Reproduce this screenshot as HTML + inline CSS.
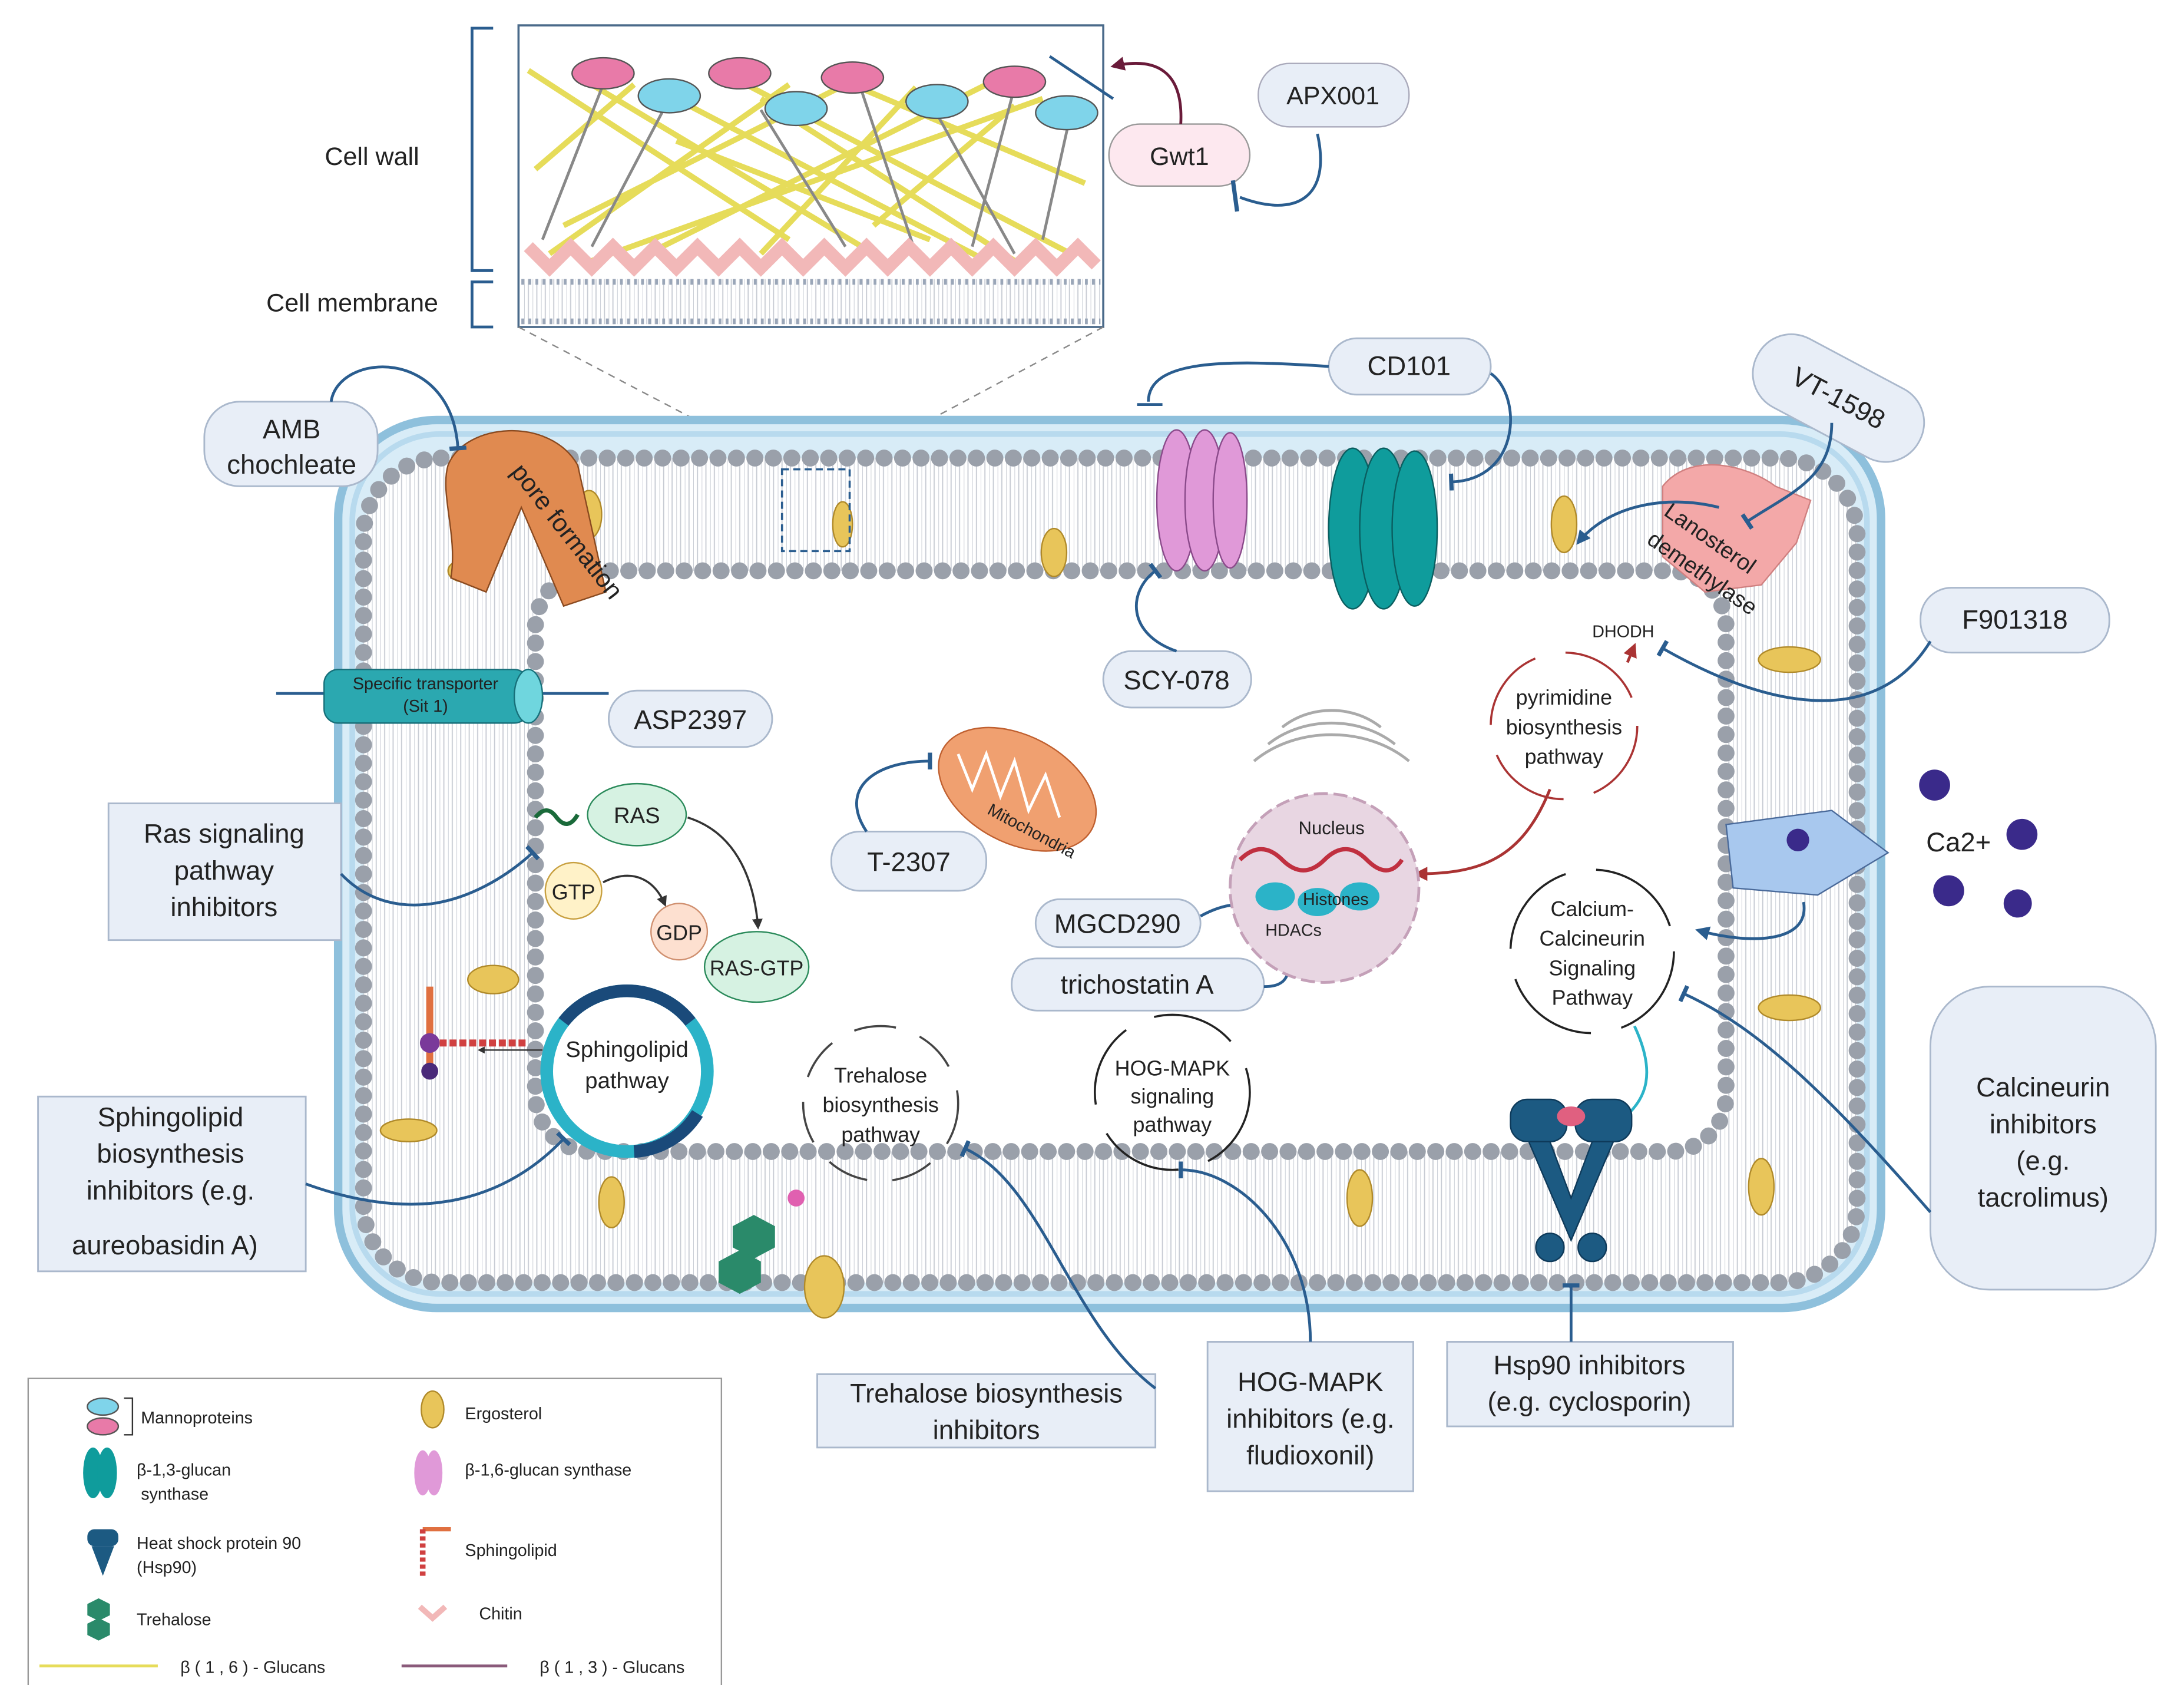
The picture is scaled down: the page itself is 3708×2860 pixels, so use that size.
<!DOCTYPE html>
<html><head><meta charset="utf-8"><style>html,body{margin:0;padding:0;background:#fff}svg{display:block}text{font-family:"Liberation Sans",sans-serif;fill:#222}</style></head><body>
<svg width="3708" height="2860" viewBox="0 0 1550 1195.5" preserveAspectRatio="none" xmlns="http://www.w3.org/2000/svg">
<defs>
<marker id="ar" viewBox="0 0 10 10" refX="8" refY="5" markerWidth="5" markerHeight="5" orient="auto"><path d="M0,0L10,5L0,10z" fill="#333"/></marker>
<marker id="arb" viewBox="0 0 10 10" refX="8" refY="5" markerWidth="5" markerHeight="5" orient="auto"><path d="M0,0L10,5L0,10z" fill="#2a5d8f"/></marker>
<marker id="arr" viewBox="0 0 10 10" refX="8" refY="5" markerWidth="5" markerHeight="5" orient="auto"><path d="M0,0L10,5L0,10z" fill="#a33"/></marker>
<marker id="art" viewBox="0 0 10 10" refX="8" refY="5" markerWidth="4" markerHeight="4" orient="auto"><path d="M0,0L10,5L0,10z" fill="#2bb3c8"/></marker>
<marker id="arp" viewBox="0 0 10 10" refX="8" refY="5" markerWidth="5" markerHeight="5" orient="auto"><path d="M0,0L10,5L0,10z" fill="#6a1b3a"/></marker>
<marker id="tb" viewBox="0 0 10 10" refX="5" refY="5" markerWidth="6" markerHeight="6" orient="auto"><path d="M5,0L5,10" stroke="#2a5d8f" stroke-width="2.5"/></marker>
<pattern id="lip" width="6" height="6" patternUnits="userSpaceOnUse"><rect width="6" height="6" fill="#fff"/><path d="M0,0L0,6M3,0L3,6" stroke="#c8ccd4" stroke-width="0.8"/></pattern>
</defs>
<!-- inset -->
<rect x="368" y="18" width="415" height="214" fill="#fff" stroke="#4a6a8a" stroke-width="1.5"/>
<g stroke="#e6dc5a" stroke-width="4">
<path d="M375,50L560,170M420,60L620,180M470,65L700,185M520,55L760,180M600,58L770,130M650,62L540,180M700,60L470,175M740,70L420,185M560,60L390,180M380,120L450,60M620,160L720,75M480,100L660,170M540,70L720,185M400,160L600,60"/>
</g>
<g stroke="#888" stroke-width="2">
<path d="M430,55L385,170M475,70L420,175M540,78L600,175M610,60L650,180M660,72L720,180M720,62L690,175M760,80L740,170"/>
</g>
<g fill="#e87aa8" stroke="#555"><ellipse cx="428" cy="52" rx="22" ry="11"/><ellipse cx="525" cy="52" rx="22" ry="11"/><ellipse cx="605" cy="55" rx="22" ry="11"/><ellipse cx="720" cy="58" rx="22" ry="11"/></g>
<g fill="#7fd4ea" stroke="#555"><ellipse cx="475" cy="68" rx="22" ry="12"/><ellipse cx="565" cy="77" rx="22" ry="12"/><ellipse cx="665" cy="72" rx="22" ry="12"/><ellipse cx="757" cy="80" rx="22" ry="12"/></g>
<path d="M375,175 L390,190 L405,175 L420,190 L435,175 L450,190 L465,175 L480,190 L495,175 L510,190 L525,175 L540,190 L555,175 L570,190 L585,175 L600,190 L615,175 L630,190 L645,175 L660,190 L675,175 L690,190 L705,175 L720,190 L735,175 L750,190 L765,175 L778,188" fill="none" stroke="#f2b8b8" stroke-width="9"/>
<rect x="370" y="198" width="411" height="32" fill="url(#lip)"/>
<path d="M370,200H781M370,228H781" stroke="#9aa6b8" stroke-width="4" stroke-dasharray="2 3"/>
<path d="M350,20H335V192H350M350,200H335V232H350" fill="none" stroke="#2a5d8f" stroke-width="2"/>
<text x="264" y="117" font-size="18" text-anchor="middle">Cell wall</text>
<text x="250" y="221" font-size="18" text-anchor="middle">Cell membrane</text>
<path d="M368,232L555,330M783,232L600,330" stroke="#888" stroke-dasharray="5 4"/>
<!-- Gwt1/APX -->
<rect x="787" y="88" width="100" height="44" rx="22" fill="#fde8ef" stroke="#999"/><text x="837" y="117" font-size="18" text-anchor="middle">Gwt1</text>
<rect x="893" y="45" width="107" height="45" rx="22" fill="#e8eef7" stroke="#aab"/><text x="946" y="74" font-size="18" text-anchor="middle">APX001</text>
<path d="M838,88 C840,50 820,40 790,47" fill="none" stroke="#6a1b3a" stroke-width="2" marker-end="url(#arp)"/>
<path d="M745,40L790,70" stroke="#2a5d8f" stroke-width="2"/>
<path d="M935,95 C945,140 920,155 880,140" fill="none" stroke="#2a5d8f" stroke-width="2"/><path d="M875,128L878,150" stroke="#2a5d8f" stroke-width="3"/>
<!-- cell -->
<rect x="240" y="298" width="1095" height="630" rx="70" fill="#d8ecf7" stroke="#8ec0dc" stroke-width="6"/>
<rect x="250" y="308" width="1075" height="610" rx="62" fill="none" stroke="#b8daee" stroke-width="4"/>
<rect x="258" y="325" width="1060" height="585" rx="55" fill="url(#lip)" stroke="#9aa0aa" stroke-width="12" stroke-dasharray="0.1 13" stroke-linecap="round"/>
<rect x="380" y="405" width="845" height="412" rx="40" fill="#fff" stroke="#9aa0aa" stroke-width="12" stroke-dasharray="0.1 13" stroke-linecap="round"/>
<g fill="#e8c55a" stroke="#b08a2a"><ellipse cx="418" cy="365" rx="9" ry="17"/><ellipse cx="748" cy="392" rx="9" ry="17"/><ellipse cx="1110" cy="372" rx="9" ry="20"/><ellipse cx="1270" cy="468" rx="22" ry="9"/><ellipse cx="1270" cy="715" rx="22" ry="9"/><ellipse cx="1250" cy="842" rx="9" ry="20"/><ellipse cx="965" cy="850" rx="9" ry="20"/><ellipse cx="585" cy="913" rx="14" ry="22"/><ellipse cx="434" cy="853" rx="9" ry="18"/><ellipse cx="290" cy="802" rx="20" ry="8"/><ellipse cx="350" cy="695" rx="18" ry="10"/><ellipse cx="330" cy="405" rx="12" ry="8"/><ellipse cx="598" cy="372" rx="7" ry="16"/></g>
<rect x="555" y="333" width="48" height="58" fill="none" stroke="#2a5d8f" stroke-width="1.5" stroke-dasharray="5 3"/>
<!-- pore -->
<path d="M318,330 C330,300 390,295 410,330 L430,420 L400,430 L370,360 L345,420 L320,410 C325,380 312,350 318,330Z" fill="#e08a50" stroke="#8a4a20"/>
<text x="362" y="335" font-size="18" transform="rotate(52 362 335)">pore formation</text>
<!-- glucan synthases -->
<g fill="#e099d8" stroke="#8a4a8a"><ellipse cx="835" cy="355" rx="14" ry="50"/><ellipse cx="855" cy="355" rx="14" ry="50"/><ellipse cx="873" cy="355" rx="12" ry="48"/></g>
<g fill="#0f9c9c" stroke="#0a5e60"><ellipse cx="960" cy="375" rx="17" ry="57"/><ellipse cx="982" cy="375" rx="17" ry="57"/><ellipse cx="1004" cy="375" rx="16" ry="55"/></g>
<path d="M1180,345 C1200,320 1240,330 1260,345 L1285,355 1275,385 1250,415 1210,420 1180,395Z" fill="#f3a8a8" stroke="#d08080"/>
<text x="1180" y="365" font-size="16" transform="rotate(35 1180 365)">Lanosterol</text>
<text x="1168" y="385" font-size="16" transform="rotate(35 1168 385)">demethylase</text>
<!-- labels -->
<g fill="#e8eef7" stroke="#aab8cc" stroke-width="1.2">
<rect x="145" y="285" width="123" height="60" rx="25"/>
<rect x="432" y="490" width="116" height="40" rx="20"/>
<rect x="77" y="570" width="165" height="97"/>
<rect x="27" y="778" width="190" height="124"/>
<rect x="590" y="590" width="110" height="42" rx="20"/>
<rect x="943" y="240" width="115" height="40" rx="20"/>
<rect x="783" y="462" width="105" height="40" rx="20"/>
<rect x="1240" y="255" width="130" height="55" rx="27" transform="rotate(28 1305 282)"/>
<rect x="1363" y="417" width="134" height="46" rx="22"/>
<rect x="735" y="638" width="117" height="34" rx="17"/>
<rect x="718" y="680" width="179" height="37" rx="18"/>
<rect x="1370" y="700" width="160" height="215" rx="42"/>
<rect x="1027" y="952" width="203" height="60"/>
<rect x="857" y="952" width="146" height="106"/>
<rect x="580" y="975" width="240" height="52"/>
</g>
<g font-size="19" text-anchor="middle">
<text x="207" y="311">AMB</text><text x="207" y="336">chochleate</text>
<text x="490" y="517">ASP2397</text>
<text x="159" y="598">Ras signaling</text><text x="159" y="624">pathway</text><text x="159" y="650">inhibitors</text>
<text x="121" y="799">Sphingolipid</text><text x="121" y="825">biosynthesis</text><text x="121" y="851">inhibitors (e.g.</text><text x="117" y="890">aureobasidin A)</text>
<text x="645" y="618">T-2307</text>
<text x="1000" y="266">CD101</text>
<text x="835" y="489">SCY-078</text>
<text x="1305" y="289" transform="rotate(28 1305 282)">VT-1598</text>
<text x="1430" y="446">F901318</text>
<text x="793" y="662">MGCD290</text>
<text x="807" y="705">trichostatin A</text>
<text x="1450" y="778">Calcineurin</text><text x="1450" y="804">inhibitors</text><text x="1450" y="830">(e.g.</text><text x="1450" y="856">tacrolimus)</text>
<text x="1128" y="975">Hsp90 inhibitors</text><text x="1128" y="1001">(e.g. cyclosporin)</text>
<text x="930" y="987">HOG-MAPK</text><text x="930" y="1013">inhibitors (e.g.</text><text x="930" y="1039">fludioxonil)</text>
<text x="700" y="995">Trehalose biosynthesis</text><text x="700" y="1021">inhibitors</text>
<text x="1390" y="604">Ca2+</text>
</g>
<!-- connectors -->
<g fill="none" stroke="#2a5d8f" stroke-width="2">
<path d="M235,285 C240,250 320,245 325,318" marker-end="url(#tb)"/>
<path d="M196,492H432"/>
<path d="M242,620 C280,660 340,640 378,605" marker-end="url(#tb)"/>
<path d="M217,840 C300,870 360,850 400,808" marker-end="url(#tb)"/>
<path d="M615,590 C595,560 620,540 660,540" marker-end="url(#tb)"/>
<path d="M943,260 C870,255 815,255 815,285"/><path d="M807,287H825"/>
<path d="M1058,265 C1080,280 1080,340 1030,342" marker-end="url(#tb)"/>
<path d="M835,462 C800,450 800,420 820,405" marker-end="url(#tb)"/>
<path d="M1300,300 C1300,340 1270,350 1240,370" marker-end="url(#tb)"/>
<path d="M1220,360 C1180,350 1140,360 1120,385" marker-end="url(#arb)"/>
<path d="M1370,455 C1330,520 1250,500 1180,460" marker-end="url(#tb)"/>
<path d="M852,650 C870,640 885,640 895,645" marker-end="url(#tb)"/>
<path d="M897,700 C915,700 915,690 915,677" marker-end="url(#tb)"/>
<path d="M1370,860 C1300,780 1250,730 1195,705" marker-end="url(#tb)"/>
<path d="M1115,952V912" marker-end="url(#tb)"/>
<path d="M930,952 C930,880 880,830 838,830" marker-end="url(#tb)"/>
<path d="M820,985 C760,940 740,840 685,815" marker-end="url(#tb)"/>
<path d="M1280,640 C1285,670 1240,670 1205,660" marker-end="url(#arb)"/>
</g>
<!-- transporter -->
<rect x="230" y="475" width="145" height="38" rx="10" fill="#2ba8b0" stroke="#17707a"/>
<ellipse cx="375" cy="494" rx="10" ry="19" fill="#6fd6de" stroke="#17707a"/>
<text x="302" y="489" font-size="12" text-anchor="middle">Specific transporter</text><text x="302" y="505" font-size="12" text-anchor="middle">(Sit 1)</text>
<!-- mito -->
<ellipse cx="722" cy="560" rx="60" ry="38" transform="rotate(28 722 560)" fill="#f0a070" stroke="#c06030"/>
<path d="M680,535 L690,560 L700,535 L710,565 L720,540 L730,575 L742,550 L752,580" fill="none" stroke="#fff" stroke-width="2"/>
<text x="700" y="577" font-size="12" transform="rotate(28 700 577)">Mitochondria</text>
<!-- ras -->
<path d="M380,580 q8,-10 15,0 q8,10 15,-2" fill="none" stroke="#1a6a3a" stroke-width="3"/>
<ellipse cx="452" cy="578" rx="35" ry="22" fill="#d6f2e2" stroke="#2a8a5a"/><text x="452" y="584" font-size="16" text-anchor="middle">RAS</text>
<circle cx="407" cy="632" r="20" fill="#fff2c8" stroke="#c8a040"/><text x="407" y="638" font-size="15" text-anchor="middle">GTP</text>
<circle cx="482" cy="661" r="20" fill="#fde0d0" stroke="#d09070"/><text x="482" y="667" font-size="15" text-anchor="middle">GDP</text>
<ellipse cx="537" cy="686" rx="37" ry="25" fill="#d6f2e2" stroke="#2a8a5a"/><text x="537" y="692" font-size="15" text-anchor="middle">RAS-GTP</text>
<g fill="none" stroke="#333" stroke-width="1.5"><path d="M488,580 C520,590 535,620 538,658" marker-end="url(#ar)"/><path d="M428,626 C450,615 465,625 472,642" marker-end="url(#ar)"/></g>
<!-- sphingolipid -->
<circle cx="445" cy="760" r="57" fill="none" stroke="#2bb3c8" stroke-width="9"/>
<path d="M400,725 A57,57 0 0 1 490,725 M495,790 A57,57 0 0 1 450,817" fill="none" stroke="#1a4a7a" stroke-width="9"/>
<text x="445" y="750" font-size="16" text-anchor="middle">Sphingolipid</text><text x="445" y="772" font-size="16" text-anchor="middle">pathway</text>
<path d="M385,745H340" stroke="#333" marker-end="url(#ar)"/>
<path d="M305,740H375" stroke="#d04040" stroke-width="5" stroke-dasharray="5 2"/><path d="M305,700V760" stroke="#e07040" stroke-width="5"/>
<circle cx="305" cy="740" r="7" fill="#7a3a9a"/><circle cx="305" cy="760" r="6" fill="#4a2a7a"/>
<!-- cycles -->
<g fill="none" stroke-width="1.5">
<circle cx="1110" cy="515" r="52" stroke="#a33" stroke-dasharray="60 22"/>
<circle cx="1130" cy="675" r="58" stroke="#222" stroke-dasharray="70 22"/>
<circle cx="625" cy="783" r="55" stroke="#444" stroke-dasharray="30 18"/>
<circle cx="832" cy="775" r="55" stroke="#222" stroke-dasharray="60 22"/>
</g>
<g font-size="15" text-anchor="middle">
<text x="1110" y="500">pyrimidine</text><text x="1110" y="521">biosynthesis</text><text x="1110" y="542">pathway</text>
<text x="1130" y="650">Calcium-</text><text x="1130" y="671">Calcineurin</text><text x="1130" y="692">Signaling</text><text x="1130" y="713">Pathway</text>
<text x="625" y="768">Trehalose</text><text x="625" y="789">biosynthesis</text><text x="625" y="810">pathway</text>
<text x="832" y="763">HOG-MAPK</text><text x="832" y="783">signaling</text><text x="832" y="803">pathway</text>
<text x="1152" y="452" font-size="12">DHODH</text>
</g>
<path d="M1155,470 L1160,458" stroke="#a33" stroke-width="2" marker-end="url(#arr)"/>
<path d="M1100,560 C1080,610 1050,620 1005,620" fill="none" stroke="#a33" stroke-width="2" marker-end="url(#arr)"/>
<!-- nucleus -->
<g fill="none" stroke="#aaa" stroke-width="2"><path d="M890,540 C920,515 970,515 1000,540"/><path d="M900,528 C925,508 965,508 990,528"/><path d="M910,516 C930,500 960,500 980,516"/></g>
<circle cx="940" cy="630" r="67" fill="#e8d6e2" stroke="#c4a0b8" stroke-dasharray="10 4" stroke-width="2"/>
<text x="945" y="592" font-size="13" text-anchor="middle">Nucleus</text>
<path d="M880,610 q15,-15 30,0 t30,0 t30,0 t25,0" fill="none" stroke="#c03040" stroke-width="3"/>
<g fill="#2bb3c8"><ellipse cx="905" cy="636" rx="14" ry="10"/><ellipse cx="935" cy="640" rx="14" ry="10"/><ellipse cx="965" cy="636" rx="14" ry="10"/></g>
<text x="948" y="642" font-size="12" text-anchor="middle">Histones</text>
<text x="918" y="664" font-size="12" text-anchor="middle">HDACs</text>
<!-- calcium channel -->
<path d="M1225,585 L1300,575 L1340,605 L1290,635 L1230,630Z" fill="#a8c8ee" stroke="#4a6a9a"/>
<circle cx="1276" cy="596" r="8" fill="#3a2a8a"/>
<g fill="#3a2a8a"><circle cx="1373" cy="557" r="11"/><circle cx="1435" cy="592" r="11"/><circle cx="1383" cy="632" r="11"/><circle cx="1432" cy="641" r="10"/></g>
<path d="M1160,728 C1175,760 1170,780 1150,795" fill="none" stroke="#2bb3c8" stroke-width="2" marker-end="url(#art)"/>
<!-- hsp90 -->
<g fill="#1c5a82" stroke="#0e3a5a"><rect x="1072" y="780" width="40" height="30" rx="12"/><rect x="1118" y="780" width="40" height="30" rx="12"/><path d="M1085,810 L1115,880 L1145,810 L1130,810 L1115,850 L1100,810Z"/><circle cx="1100" cy="885" r="10"/><circle cx="1130" cy="885" r="10"/></g>
<ellipse cx="1115" cy="792" rx="10" ry="7" fill="#e06080"/>
<!-- trehalose icon -->
<g fill="#2a8a6a"><polygon points="520,870 535,862 550,870 550,885 535,893 520,885"/><polygon points="510,895 525,887 540,895 540,910 525,918 510,910"/></g>
<circle cx="565" cy="850" r="6" fill="#e060b0"/>
<!-- legend -->
<rect x="20" y="978" width="492" height="219" fill="#fff" stroke="#999"/>
<ellipse cx="73" cy="998" rx="11" ry="6" fill="#7fd4ea" stroke="#555"/><ellipse cx="73" cy="1012" rx="11" ry="6" fill="#e87aa8" stroke="#555"/>
<path d="M88,992H94V1018H88" fill="none" stroke="#333"/>
<g fill="#0f9c9c"><ellipse cx="66" cy="1045" rx="7" ry="18"/><ellipse cx="76" cy="1045" rx="7" ry="18"/></g>
<g fill="#1c5a82"><rect x="62" y="1085" width="22" height="12" rx="5"/><path d="M65,1097 L73,1118 L81,1097Z"/></g>
<g fill="#2a8a6a"><polygon points="62,1138 70,1134 78,1138 78,1146 70,1150 62,1146"/><polygon points="62,1152 70,1148 78,1152 78,1160 70,1164 62,1160"/></g>
<ellipse cx="307" cy="1000" rx="8" ry="13" fill="#e8c55a" stroke="#b08a2a"/>
<g fill="#e099d8"><ellipse cx="300" cy="1045" rx="6" ry="16"/><ellipse cx="308" cy="1045" rx="6" ry="16"/></g>
<path d="M300,1085H320" stroke="#e07040" stroke-width="3"/><path d="M300,1085V1120" stroke="#d04040" stroke-width="4" stroke-dasharray="3 2"/>
<path d="M298,1140L307,1148L316,1140" fill="none" stroke="#f2b8b8" stroke-width="4"/>
<path d="M28,1182H112" stroke="#e6dc5a" stroke-width="2"/><path d="M285,1182H360" stroke="#8a5a7a" stroke-width="2"/>
<g font-size="12">
<text x="100" y="1010">Mannoproteins</text>
<text x="97" y="1047">β-1,3-glucan</text><text x="100" y="1064">synthase</text>
<text x="97" y="1099">Heat shock protein 90</text><text x="97" y="1116">(Hsp90)</text>
<text x="97" y="1153">Trehalose</text>
<text x="330" y="1007">Ergosterol</text>
<text x="330" y="1047">β-1,6-glucan synthase</text>
<text x="330" y="1104">Sphingolipid</text>
<text x="340" y="1149">Chitin</text>
<text x="128" y="1187">β ( 1 , 6 ) - Glucans</text>
<text x="383" y="1187">β ( 1 , 3 ) - Glucans</text>
</g>
</svg>
</body></html>
